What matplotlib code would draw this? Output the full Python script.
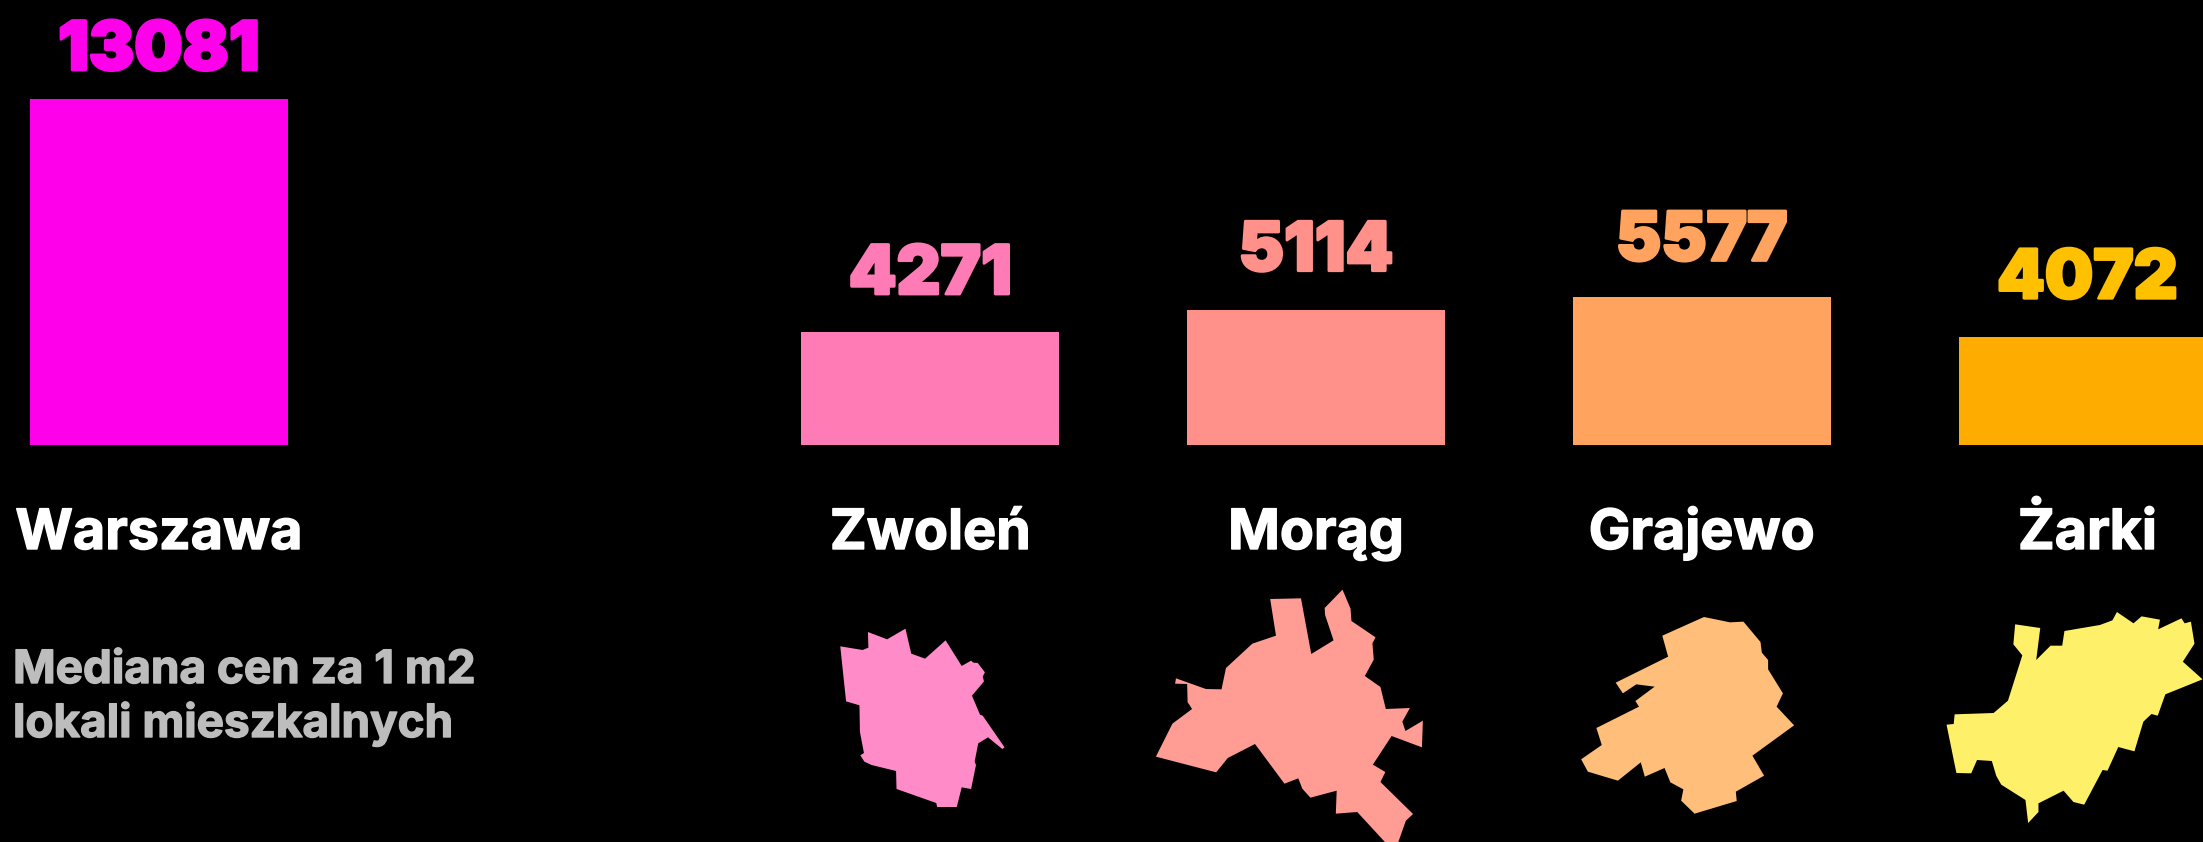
import matplotlib
matplotlib.use('Agg')
import matplotlib.pyplot as plt
import matplotlib.patheffects as pe
from matplotlib.patches import Polygon

# median price per m2
cities = ['Warszawa', 'Zwoleń', 'Morąg', 'Grajewo', 'Żarki']
positions = [0, 2, 3, 4, 5]
values = [13081, 4271, 5114, 5577, 4072]
label_gaps = [29, 38, 39, 37, 39]
bar_colors = ['#FF00EA', '#FF7BB5', '#FF908A', '#FFA35E', '#FFAC00']
label_colors = ['#FF00EA', '#FF7BB5', '#FF908A', '#FFA35E', '#FFC000']
shape_colors = ['#FF8CC8', '#FF9C94', '#FFBE7A', '#FFF06A']
note_lines = ['Mediana cen za 1 m2', 'lokali mieszkalnych']

left_crop = (780, 570, 1568 / 700)
right_crop = (1500, 570, 1568 / 703)
zwolen = [(135, 229), (185, 240), (198, 233), (197, 186), (240, 208), (281, 176), (294, 251), (325, 266),
          (371, 211), (407, 288), (428, 272), (433, 278), (443, 279), (459, 307), (454, 320), (457, 334),
          (430, 377), (448, 434), (454, 437), (503, 532), (498, 537), (466, 502), (444, 520), (436, 575),
          (439, 585), (428, 657), (407, 652), (396, 711), (352, 711), (350, 699), (261, 657), (260, 603),
          (205, 585), (189, 575), (180, 556), (188, 549), (179, 485), (178, 406), (148, 394)]
morag = [(1098, 87), (1167, 85), (1190, 252), (1240, 211), (1221, 135), (1220, 114), (1260, 59), (1278, 116),
         (1280, 153), (1334, 202), (1327, 220), (1330, 269), (1310, 318), (1345, 351), (1357, 417), (1411, 414),
         (1394, 455), (1401, 483), (1440, 452), (1438, 532), (1370, 498), (1328, 584), (1356, 606), (1345, 636),
         (1418, 732), (1402, 752), (1385, 816), (1355, 816), (1293, 726), (1245, 731), (1247, 662), (1188, 683),
         (1170, 656), (1161, 625), (1130, 641), (1064, 522), (1003, 564), (977, 607), (842, 560), (879, 461),
         (923, 417), (913, 396), (912, 342), (885, 341), (887, 325), (954, 357), (989, 358), (999, 294),
         (1058, 221), (1111, 197)]
grajewo = [(455, 141), (513, 157), (543, 155), (581, 216), (584, 248), (598, 270), (598, 298), (631, 370),
           (617, 410), (656, 466), (563, 557), (589, 617), (526, 665), (528, 693), (434, 731), (404, 692),
           (409, 658), (380, 637), (367, 594), (323, 620), (314, 577), (263, 632), (196, 605), (181, 568),
           (227, 525), (215, 474), (310, 410), (302, 393), (345, 350), (304, 343), (274, 370), (258, 338),
           (375, 260), (362, 197)]
zarki = [(1149, 163), (1205, 174), (1196, 270), (1228, 227), (1254, 227), (1259, 183), (1338, 165), (1366, 151),
         (1376, 126), (1413, 160), (1431, 139), (1472, 149), (1468, 178), (1520, 145), (1527, 160), (1541, 155),
         (1549, 221), (1523, 275), (1567, 328), (1484, 373), (1467, 437), (1453, 432), (1435, 455), (1415, 544),
         (1379, 531), (1355, 602), (1344, 600), (1303, 704), (1279, 696), (1257, 662), (1201, 700), (1201, 726),
         (1178, 759), (1172, 690), (1118, 644), (1107, 618), (1097, 573), (1064, 570), (1051, 610), (1018, 609),
         (996, 464), (1012, 462), (1014, 433), (1101, 429), (1133, 392), (1165, 256), (1145, 223)]
outlines = [(left_crop, zwolen), (left_crop, morag), (right_crop, grajewo), (right_crop, zarki)]

W, H = 2203, 842
fig = plt.figure(figsize=(W / 100, H / 100), dpi=100, facecolor='black')

# bars: 386 px per slot, baseline at y=445 px, 346 px for the tallest bar
ax = fig.add_axes([0, 0, 1, 1], facecolor='black')
px_x = 385.7
px_y = 13081 / 346
ax.bar(positions, values, width=258 / px_x, color=bar_colors)
ax.set_xlim(-159 / px_x, (W - 159) / px_x)
ax.set_ylim(-(H - 445) * px_y, 445 * px_y)
ax.axis('off')

for p, v, c, name, gap in zip(positions, values, label_colors, cities, label_gaps):
    ax.annotate(str(v), (p, v), xytext=(0, gap * 0.72), textcoords='offset points', ha='center', va='baseline',
                color=c, family='Inter', weight='black', fontsize=49,
                path_effects=[pe.withStroke(linewidth=2, foreground=c)])
    ax.annotate(name, (p, 0), xytext=(0, -104 * 0.72), textcoords='offset points', ha='center', va='baseline',
                color='white', family='Inter', weight='bold', fontsize=40,
                path_effects=[pe.withStroke(linewidth=1, foreground='white')])

# town shapes in pixel coordinates
ax2 = fig.add_axes([0, 0, 1, 1], facecolor='none')
ax2.set_xlim(0, W)
ax2.set_ylim(H, 0)
ax2.axis('off')
for ((x0, y0, sx), pts), c in zip(outlines, shape_colors):
    xy = [(x0 + x / sx, y0 + y / 3) for x, y in pts]
    ax2.add_patch(Polygon(xy, closed=True, facecolor=c, edgecolor='none'))

for line, y in zip(note_lines, [683, 737]):
    ax2.text(13, y, line, color='#BDBDBD', family='Inter', weight='bold', fontsize=33,
             ha='left', va='baseline', path_effects=[pe.withStroke(linewidth=1, foreground='#BDBDBD')])

fig.savefig('out.png', dpi=100, facecolor='black')
